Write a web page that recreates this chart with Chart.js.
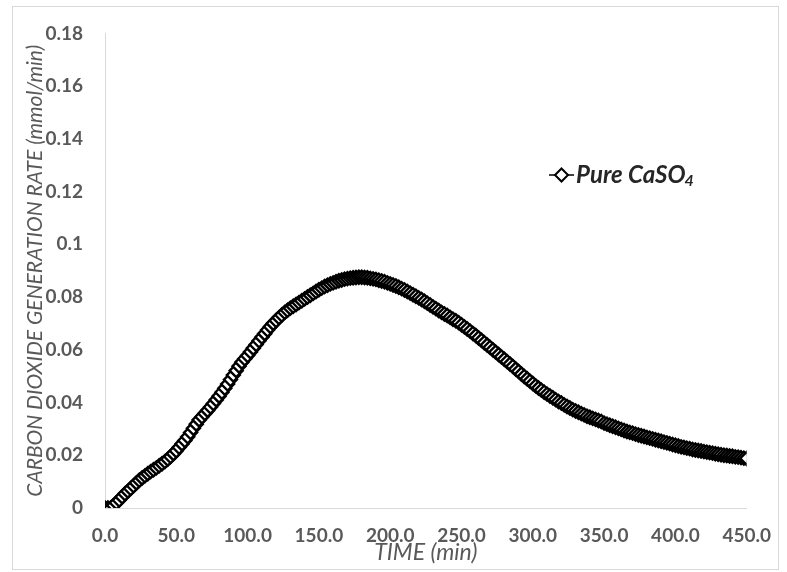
<!DOCTYPE html>
<html>
<head>
<meta charset="utf-8">
<script src="https://cdn.jsdelivr.net/npm/chart.js@4"></script>
<style>
  html, body { margin: 0; padding: 0; background: #fff; }
  #wrap { width: 787px; height: 572px; }
</style>
</head>
<body>
<div id="wrap"><canvas id="myChart" width="787" height="572"></canvas></div>
<script>
const times = [
  0, 2, 4, 6, 8, 10, 12, 14, 16, 18, 20, 22, 24, 26, 28, 30, 32, 34, 36, 38,
  40, 42, 44, 46, 48, 50, 52, 54, 56, 58, 60, 62, 64, 66, 68, 70, 72, 74, 76, 78,
  80, 82, 84, 86, 88, 90, 92, 94, 96, 98, 100, 102, 104, 106, 108, 110, 112, 114, 116, 118,
  120, 122, 124, 126, 128, 130, 132, 134, 136, 138, 140, 142, 144, 146, 148, 150, 152, 154, 156, 158,
  160, 162, 164, 166, 168, 170, 172, 174, 176, 178, 180, 182, 184, 186, 188, 190, 192, 194, 196, 198,
  200, 202, 204, 206, 208, 210, 212, 214, 216, 218, 220, 222, 224, 226, 228, 230, 232, 234, 236, 238,
  240, 242, 244, 246, 248, 250, 252, 254, 256, 258, 260, 262, 264, 266, 268, 270, 272, 274, 276, 278,
  280, 282, 284, 286, 288, 290, 292, 294, 296, 298, 300, 302, 304, 306, 308, 310, 312, 314, 316, 318,
  320, 322, 324, 326, 328, 330, 332, 334, 336, 338, 340, 342, 344, 346, 348, 350, 352, 354, 356, 358,
  360, 362, 364, 366, 368, 370, 372, 374, 376, 378, 380, 382, 384, 386, 388, 390, 392, 394, 396, 398,
  400, 402, 404, 406, 408, 410, 412, 414, 416, 418, 420, 422, 424, 426, 428, 430, 432, 434, 436, 438,
  440, 442, 444, 446, 448, 450
];

const pureCaSO4 = [
  0, 0, 0, 0.0010, 0.0020, 0.0030, 0.0042, 0.0054, 0.0064, 0.0074,
  0.0084, 0.0095, 0.0105, 0.0114, 0.0122, 0.0130, 0.0138, 0.0145, 0.0152, 0.0160,
  0.0168, 0.0176, 0.0185, 0.0195, 0.0206, 0.0217, 0.0230, 0.0243, 0.0256, 0.0270,
  0.0286, 0.0302, 0.0318, 0.0334, 0.0346, 0.0358, 0.0370, 0.0383, 0.0396, 0.0410,
  0.0424, 0.0439, 0.0454, 0.0470, 0.0487, 0.0504, 0.0521, 0.0538, 0.0553, 0.0566,
  0.0578, 0.0592, 0.0606, 0.0620, 0.0634, 0.0648, 0.0661, 0.0675, 0.0688, 0.0700,
  0.0711, 0.0722, 0.0732, 0.0742, 0.0750, 0.0758, 0.0765, 0.0772, 0.0779, 0.0786,
  0.0793, 0.0800, 0.0807, 0.0814, 0.0821, 0.0828, 0.0834, 0.0840, 0.0845, 0.0850,
  0.0854, 0.0858, 0.0862, 0.0865, 0.0868, 0.0870, 0.0872, 0.0873, 0.0874, 0.0875,
  0.0875, 0.0874, 0.0873, 0.0871, 0.0869, 0.0867, 0.0864, 0.0861, 0.0858, 0.0854,
  0.0850, 0.0846, 0.0842, 0.0837, 0.0832, 0.0827, 0.0821, 0.0815, 0.0809, 0.0803,
  0.0797, 0.0791, 0.0784, 0.0777, 0.0770, 0.0763, 0.0756, 0.0749, 0.0742, 0.0736,
  0.0730, 0.0723, 0.0716, 0.0710, 0.0703, 0.0695, 0.0687, 0.0679, 0.0671, 0.0662,
  0.0654, 0.0645, 0.0636, 0.0627, 0.0618, 0.0609, 0.0600, 0.0591, 0.0582, 0.0573,
  0.0564, 0.0555, 0.0546, 0.0537, 0.0527, 0.0518, 0.0508, 0.0499, 0.0490, 0.0481,
  0.0472, 0.0463, 0.0455, 0.0447, 0.0439, 0.0432, 0.0425, 0.0418, 0.0411, 0.0404,
  0.0398, 0.0391, 0.0385, 0.0379, 0.0373, 0.0368, 0.0363, 0.0358, 0.0353, 0.0348,
  0.0344, 0.0340, 0.0336, 0.0332, 0.0328, 0.0322, 0.0318, 0.0314, 0.0310, 0.0306,
  0.0302, 0.0298, 0.0294, 0.0290, 0.0287, 0.0284, 0.0280, 0.0277, 0.0274, 0.0271,
  0.0268, 0.0265, 0.0262, 0.0259, 0.0256, 0.0253, 0.0250, 0.0247, 0.0244, 0.0241,
  0.0238, 0.0235, 0.0232, 0.0230, 0.0227, 0.0225, 0.0222, 0.0220, 0.0218, 0.0216,
  0.0214, 0.0212, 0.0210, 0.0208, 0.0206, 0.0204, 0.0202, 0.0200, 0.0199, 0.0197,
  0.0196, 0.0194, 0.0193, 0.0191, 0.0189, 0.0188
];

const xTickLabels = ['0.0', '50.0', '100.0', '150.0', '200.0', '250.0', '300.0', '350.0', '400.0', '450.0'];
const yTickLabels = ['0', '0.02', '0.04', '0.06', '0.08', '0.1', '0.12', '0.14', '0.16', '0.18'];

const seriesName = 'Pure CaSO';
const seriesSub = '4';
const xTitle = 'TIME (min)';
const yTitle = 'CARBON DIOXIDE GENERATION RATE (mmol/min)';

const grey = '#595959';

// outer frame + legend drawn by hand, Excel style
const frameAndLegend = {
  id: 'frameAndLegend',
  beforeDraw(chart) {
    const c = chart.ctx;
    c.save();
    c.fillStyle = '#fff';
    c.fillRect(0, 0, chart.width, chart.height);
    c.strokeStyle = '#d9d9d9';
    c.lineWidth = 1;
    c.strokeRect(12.5, 6.5, 766, 563);
    c.restore();
  },
  afterDraw(chart) {
    const c = chart.ctx;
    const x0 = 549, y0 = 175;
    c.save();
    c.strokeStyle = '#000';
    c.lineWidth = 1.5;
    c.beginPath();
    c.moveTo(x0, y0);
    c.lineTo(x0 + 25, y0);
    c.stroke();
    c.beginPath();
    c.moveTo(x0 + 12.5, y0 - 6.5);
    c.lineTo(x0 + 19, y0);
    c.lineTo(x0 + 12.5, y0 + 6.5);
    c.lineTo(x0 + 6, y0);
    c.closePath();
    c.fillStyle = '#fff';
    c.fill();
    c.lineWidth = 2;
    c.stroke();

    c.fillStyle = '#262626';
    c.textBaseline = 'middle';
    c.font = 'italic bold 24px Lato';
    c.fillText(seriesName, x0 + 27, y0);
    const w = c.measureText(seriesName).width;
    c.font = 'italic bold 16px Lato';
    c.fillText(seriesSub, x0 + 27 + w - 1, y0 + 6);
    c.restore();
  }
};

document.addEventListener('DOMContentLoaded', function() {
  const ctx = document.getElementById('myChart');

  new Chart(ctx, {
    type: 'scatter',
    data: {
      datasets: [{
        label: seriesName + seriesSub,
        data: times.map((t, i) => ({ x: t, y: pureCaSO4[i] })),
        showLine: true,
        borderColor: '#000',
        borderWidth: 1,
        pointStyle: 'rectRot',
        pointRadius: 6.5,
        pointBorderWidth: 2.4,
        pointBorderColor: '#000',
        pointBackgroundColor: '#fff'
      }]
    },
    options: {
      responsive: false,
      animation: false,
      events: [],
      layout: { padding: { left: 12, top: 27, right: 28, bottom: 2 } },
      plugins: {
        legend: { display: false },
        tooltip: { enabled: false }
      },
      scales: {
        x: {
          type: 'linear',
          min: 0,
          max: 450,
          afterFit: (scale) => { scale.height = 62; },
          grid: { display: false, drawTicks: false },
          border: { display: true, color: '#d9d9d9', width: 1 },
          ticks: {
            stepSize: 50,
            padding: 16,
            color: grey,
            font: { family: 'Lato', size: 19, weight: 'bold' },
            maxRotation: 0,
            callback: (v, i) => xTickLabels[i]
          },
          title: {
            display: true,
            text: xTitle,
            color: grey,
            font: { family: 'Lato', size: 23, style: 'italic' },
            padding: { top: 0, bottom: 4 }
          }
        },
        y: {
          min: 0,
          max: 0.18,
          afterFit: (scale) => { scale.width = 93; },
          grid: { display: false, drawTicks: false },
          border: { display: true, color: '#d9d9d9', width: 1 },
          ticks: {
            stepSize: 0.02,
            padding: 22,
            color: grey,
            font: { family: 'Lato', size: 19, weight: 'bold' },
            callback: (v, i) => yTickLabels[i]
          },
          title: {
            display: true,
            text: yTitle,
            color: grey,
            font: { family: 'Lato', size: 21, style: 'italic' },
            padding: { top: 11, bottom: 0 }
          }
        }
      }
    },
    plugins: [frameAndLegend]
  });
});
</script>
</body>
</html>
